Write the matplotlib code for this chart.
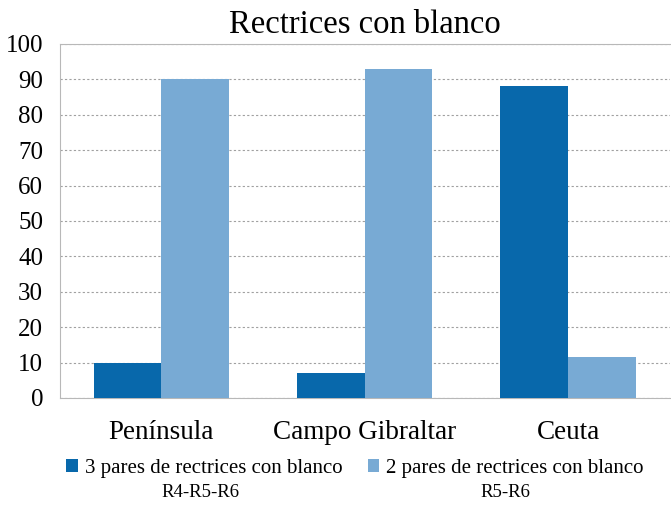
import matplotlib.pyplot as plt
import numpy as np

categories = ["Península", "Campo Gibraltar", "Ceuta"]
tres_pares = [10, 7, 88]
dos_pares = [90, 93, 11.6]
series_labels = ["3 pares de rectrices con blanco", "2 pares de rectrices con blanco"]
sub_labels = ["R4-R5-R6", "R5-R6"]
yticks = [0, 10, 20, 30, 40, 50, 60, 70, 80, 90, 100]

plt.rcParams['font.family'] = ['Liberation Serif', 'DejaVu Serif']

fig = plt.figure(figsize=(6.71, 5.05), dpi=100)
ax = fig.add_axes([0.089, 0.212, 0.909, 0.701])

x = np.arange(len(categories))
w = 1 / 3
ax.bar(x - w / 2, tres_pares, w, color="#0868ab", label=series_labels[0], zorder=3)
ax.bar(x + w / 2, dos_pares, w, color="#78aad4", label=series_labels[1], zorder=3)

ax.set_xlim(-0.5, 2.5)
ax.set_ylim(0, 100)
ax.set_yticks(yticks)
ax.set_xticks(x)
ax.set_xticklabels(categories, fontsize=19.5)
ax.tick_params(axis='y', labelsize=18, length=0, pad=12)
ax.tick_params(axis='x', length=0, pad=16)
ax.yaxis.grid(True, linestyle=(0, (2, 2)), color="#a0a0a0", linewidth=0.8, zorder=0)

for s in ["left", "bottom", "top"]:
    ax.spines[s].set_color("#b8b8b8")
ax.spines["right"].set_visible(False)

ax.set_title("Rectrices con blanco", fontsize=23.5, pad=8)

fig.legend(loc="center", bbox_to_anchor=(0.529, 0.073), ncol=2, frameon=False,
           fontsize=15, handlelength=0.55, handleheight=0.55, handletextpad=0.35,
           columnspacing=1.2)
fig.text(0.298, 0.024, sub_labels[0], ha="center", va="center", fontsize=13.5)
fig.text(0.753, 0.024, sub_labels[1], ha="center", va="center", fontsize=13.5)

fig.savefig("out.png", dpi=100)
